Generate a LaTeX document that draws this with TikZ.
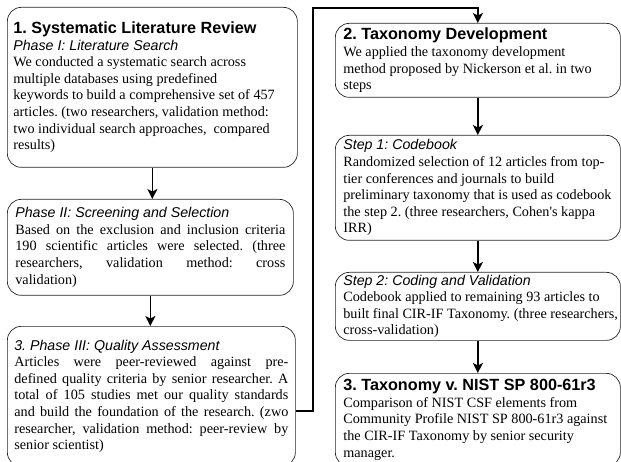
\documentclass[tikz,border=0pt]{standalone}
\usepackage{fontspec}
\setmainfont{Liberation Serif}
\newfontfamily\hsans{Liberation Sans}
\usetikzlibrary{arrows.meta}
\frenchspacing
\newcommand\nsp{\spaceskip=0pt\xspaceskip=0pt\frenchspacing}
\newcommand\RL[1]{\makebox[\hsize][l]{\nsp #1}}
\newcommand\JL[1]{\makebox[\hsize][s]{\nsp #1}}
\newcommand\ttl[1]{{\hsans\bfseries\fontsize{16.2}{18}\selectfont\nsp #1\par}}
\newcommand\itl[1]{{\hsans\itshape\fontsize{14.2}{16.5}\selectfont\nsp #1\par}}
\begin{document}
\begin{tikzpicture}[x=1pt,y=-1pt,
  box/.style={draw=black!85, line width=0.7pt, rounded corners=14pt, anchor=north west,
    inner ysep=0pt, align=left, font=\fontsize{14.2}{16.6}\selectfont},
  lbox/.style={box, minimum width=290pt, inner xsep=6pt, text width=278pt},
  rbox/.style={box, minimum width=285pt, inner xsep=8pt, text width=269pt},
  conn/.style={line width=1.6pt, -{Stealth[length=10pt,width=10pt,inset=2.5pt]}}]
\useasboundingbox (0,0) rectangle (621,462);
% left column
\node[lbox, minimum height=160pt] (A) at (7,7) {%
\ttl{1. Systematic Literature Review}%
\itl{Phase I: Literature Search}%
\RL{We conducted a systematic search across}\\
\RL{multiple databases using predefined}\\
\RL{keywords to build a comprehensive set of 457}\\
\RL{articles. (two researchers, validation method:}\\
\RL{two individual search approaches,\ \ compared}\\
\RL{results)}};
\node[box, minimum width=286pt, inner xsep=8pt, text width=270pt, minimum height=96pt] (B) at (7,199) {%
\itl{Phase II: Screening and Selection}%
\JL{Based on the exclusion and inclusion criteria}\\
\JL{190 scientific articles were selected. (three}\\
\JL{researchers, validation method: cross}\\
\RL{validation)}};
\node[box, minimum width=288pt, inner xsep=7pt, text width=274pt, minimum height=140pt] (C) at (7,326) {%
\itl{3. Phase III: Quality Assessment}%
\JL{Articles were peer-reviewed against pre-}\\
\JL{defined quality criteria by senior researcher. A}\\
\JL{total of 105 studies met our quality standards}\\
\JL{and build the foundation of the research. (zwo}\\
\JL{researcher, validation method: peer-review by}\\
\RL{senior scientist)}};
% right column
\node[rbox, minimum height=74pt] (D) at (335,23) {%
\ttl{2. Taxonomy Development}%
\RL{We applied the taxonomy development}\\
\RL{method proposed by Nickerson et al. in two}\\
\RL{steps}};
\node[rbox, minimum height=105pt] (E) at (335,135) {%
\itl{Step 1: Codebook}%
\RL{Randomized selection of 12 articles from top-}\\
\RL{tier conferences and journals to build}\\
\RL{preliminary taxonomy that is used as codebook}\\
\RL{the step 2. (three researchers, Cohen\textquotesingle s kappa}\\
\RL{IRR)}};
\node[rbox, minimum height=68pt] (F) at (335,272) {%
\itl{Step 2: Coding and Validation}%
\RL{Codebook applied to remaining 93 articles to}\\
\RL{built final CIR-IF Taxonomy. (three researchers,}\\
\RL{cross-validation)}};
\node[rbox, minimum height=93pt] (G) at (335,373) {%
\ttl{3. Taxonomy v. NIST SP 800-61r3}%
\RL{Comparison of NIST CSF elements from}\\
\RL{Community Profile NIST SP 800-61r3 against}\\
\RL{the CIR-IF Taxonomy by senior security}\\
\RL{manager.}};
% connectors
\draw[conn] (A.south) -- (A.south |- B.north);
\draw[conn] (B.south) -- (B.south |- C.north);
\draw[conn] (D.south) -- (D.south |- E.north);
\draw[conn] (E.south) -- (E.south |- F.north);
\draw[conn] (F.south) -- (F.south |- G.north);
\coordinate (k) at (313,411);
\coordinate (t) at (0,8);
\draw[conn] (k -| C.east) -- (k) |- (D.north |- t) -- (D.north);
\end{tikzpicture}
\end{document}
